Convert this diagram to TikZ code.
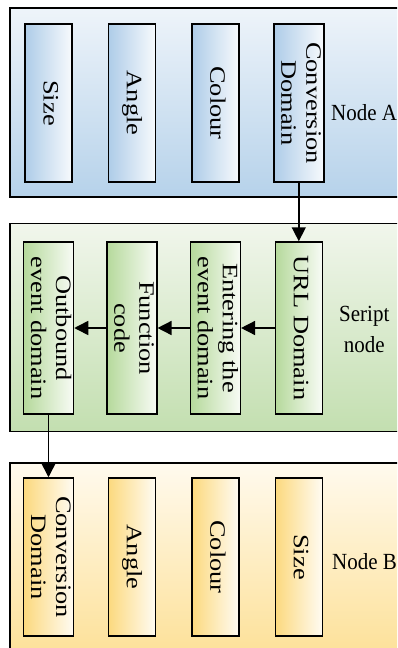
\documentclass[tikz,border=0pt]{standalone}
\usepackage{fontspec}
\setmainfont{Liberation Serif}
\usetikzlibrary{arrows.meta}
\definecolor{bluetop}{HTML}{EEF4FA}
\definecolor{bluebot}{HTML}{B6D2EA}
\definecolor{bluebox}{HTML}{AECCE8}
\definecolor{greentop}{HTML}{F1F6EC}
\definecolor{greenbot}{HTML}{C3DFB0}
\definecolor{greenbox}{HTML}{B5D99B}
\definecolor{yellowtop}{HTML}{FFFAEE}
\definecolor{yellowbot}{HTML}{FDE096}
\definecolor{yellowbox}{HTML}{FCD97E}
% vertical text, read from top to bottom
\newcommand{\vtxt}[1]{\rotatebox{-90}{\scalebox{1.2}[1]{\begin{tabular}{@{}c@{}}#1\end{tabular}}}}
% side labels, a little taller
\newcommand{\htxt}[1]{\scalebox{1}[1.1]{\begin{tabular}{@{}c@{}}#1\end{tabular}}}

\begin{document}
\begin{tikzpicture}[x=1pt, y=-1pt,
    panel/.style={draw, line width=1.8pt},
    field/.style={draw, line width=1.5pt, minimum width=47pt, inner sep=0pt,
        font=\fontsize{22}{25}\selectfont},
    fieldA/.style={field, minimum height=158pt, left color=bluebox, right color=white!90!bluebox},
    fieldS/.style={field, minimum height=172pt, left color=greenbox, right color=white!90!greenbox},
    fieldB/.style={field, minimum height=158pt, left color=yellowbox, right color=white!90!yellowbox},
    tag/.style={anchor=west, inner sep=0pt, font=\fontsize{21}{28}\selectfont},
    conn/.style={line width=1.5pt, -{Triangle[length=14pt, width=14pt]}}]
    \useasboundingbox (0, 0) rectangle (397, 648);
    \clip (0, 0) rectangle (397, 648);
    % Node A
    \draw[panel, top color=bluetop, bottom color=bluebot] (10, 8) rectangle (410, 197);
    \node[fieldA] (sizeA) at (48.5, 103) {\vtxt{Size}};
    \node[fieldA] (angleA) at (131.8, 103) {\vtxt{Angle}};
    \node[fieldA] (colourA) at (215.3, 103) {\vtxt{Colour}};
    \node[fieldA] (convA) at (298.8, 103) {\vtxt{Conversion\\Domain}};
    \node[tag] (nodeA) at (331, 114) {\htxt{Node A}};
    % Script node
    \draw[panel, top color=greentop, bottom color=greenbot] (10, 223.5) rectangle (410, 431.5);
    \node[fieldS] (outb) at (48.5, 328) {\vtxt{Outbound\\event domain}};
    \node[fieldS] (func) at (131.8, 328) {\vtxt{Function\\code}};
    \node[fieldS] (enter) at (215.3, 328) {\vtxt{Entering the\\event domain}};
    \node[fieldS] (url) at (298.8, 328) {\vtxt{URL Domain}};
    \node[tag] (script) at (339, 331) {\htxt{Seript\\node}};
    % Node B
    \draw[panel, top color=yellowtop, bottom color=yellowbot] (10, 463) rectangle (410, 660);
    \node[fieldB] (convB) at (48.5, 557) {\vtxt{Conversion\\Domain}};
    \node[fieldB] (angleB) at (131.8, 557) {\vtxt{Angle}};
    \node[fieldB] (colourB) at (215.3, 557) {\vtxt{Colour}};
    \node[fieldB] (sizeB) at (298.8, 557) {\vtxt{Size}};
    \node[tag] (nodeB) at (332, 563) {\htxt{Node B}};
    % connectors
    \draw[conn] (convA.south) -- (url.north);
    \draw[conn] (url.west) -- (enter.east);
    \draw[conn] (enter.west) -- (func.east);
    \draw[conn] (func.west) -- (outb.east);
    \draw[conn] (outb.south) -- (convB.north);
\end{tikzpicture}
\end{document}
